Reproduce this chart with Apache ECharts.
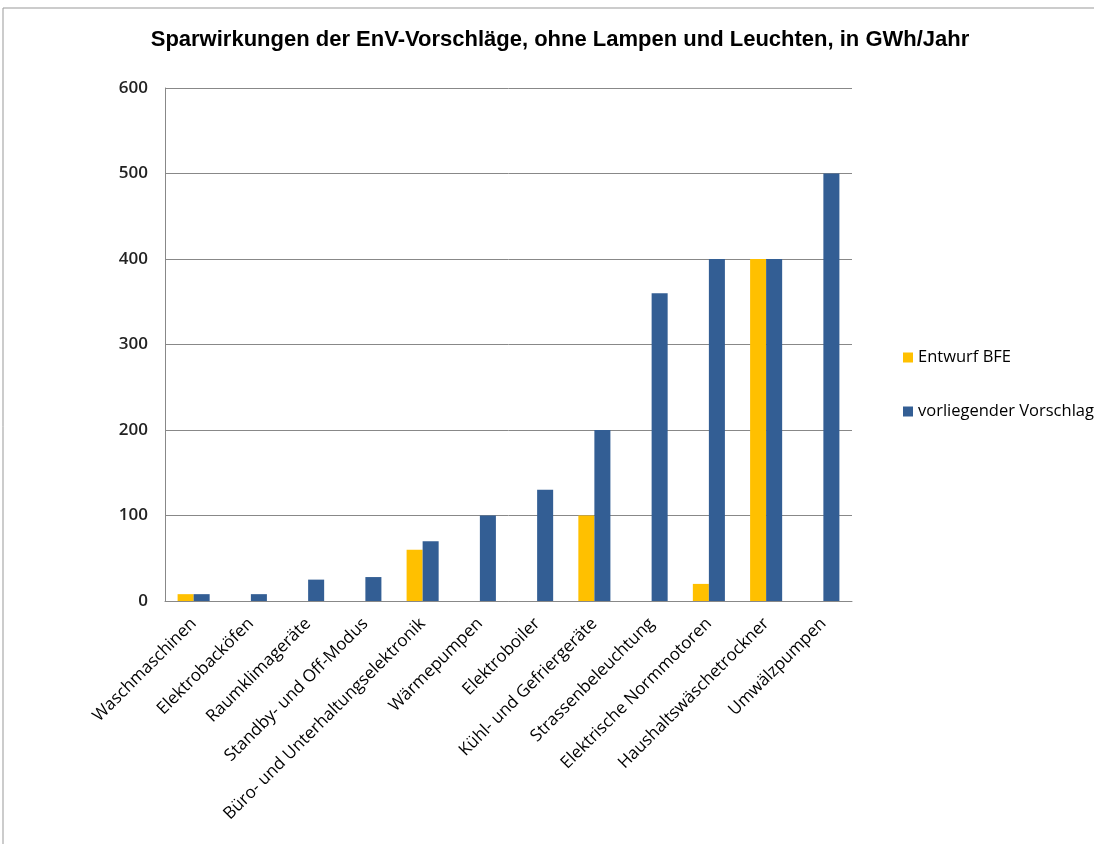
<!DOCTYPE html>
<html>
<head>
<meta charset="utf-8">
<script src="https://cdn.jsdelivr.net/npm/echarts@6/dist/echarts.min.js"></script>
<style>
  html, body { margin: 0; padding: 0; background: #fff; }
  #chart { width: 1094px; height: 844px; }
</style>
</head>
<body>
<div id="chart"></div>
<script>
const categories = [
  "Waschmaschinen", "Elektrobacköfen", "Raumklimageräte", "Standby- und Off-Modus",
  "Büro- und Unterhaltungselektronik", "Wärmepumpen", "Elektroboiler",
  "Kühl- und Gefriergeräte", "Strassenbeleuchtung", "Elektrische Normmotoren",
  "Haushaltswäschetrockner", "Umwälzpumpen"
];
const entwurfBFE = [8, null, null, null, 60, null, null, 100, null, 20, 400, null];
const vorschlag = [8, 8, 25, 28, 70, 100, 130, 200, 360, 400, 400, 500];
const yTicks = [0, 100, 200, 300, 400, 500, 600];

const chart = echarts.init(document.getElementById("chart"));
chart.setOption({
  backgroundColor: "#fff",
  animation: false,
  textStyle: { fontFamily: "Liberation Sans, Arial, sans-serif" },
  graphic: [{
    type: "rect",
    shape: { x: 3, y: 8, width: 1100, height: 850 },
    style: { fill: null, stroke: "#999", lineWidth: 1 }
  }],
  title: {
    text: "Sparwirkungen der EnV-Vorschläge, ohne Lampen und Leuchten, in GWh/Jahr",
    left: 555, top: 24, textAlign: "center",
    textStyle: { fontSize: 22, fontWeight: "bold", color: "#000", fontFamily: "Liberation Sans, Arial" }
  },
  legend: {
    orient: "vertical",
    left: 898, top: 344,
    itemWidth: 10, itemHeight: 10, itemGap: 37,
    icon: "rect",
    textStyle: { fontSize: 16.5, color: "#000", fontFamily: "Open Sans, sans-serif" },
    data: ["Entwurf BFE", "vorliegender Vorschlag"]
  },
  grid: { left: 165, right: 242, top: 88, bottom: 243, containLabel: false },
  xAxis: {
    type: "category",
    data: categories,
    axisLine: { lineStyle: { color: "#888" } },
    axisTick: { show: false },
    axisLabel: { rotate: 45, interval: 0, fontSize: 17, color: "#000", margin: 20, fontFamily: "Open Sans, sans-serif" }
  },
  yAxis: {
    type: "value",
    min: yTicks[0], max: yTicks[yTicks.length - 1], interval: 100,
    axisLine: { show: true, lineStyle: { color: "#888" } },
    axisTick: { show: false },
    axisLabel: { fontSize: 17, fontWeight: 600, color: "#222", margin: 17, fontFamily: "Open Sans, sans-serif" },
    splitLine: { lineStyle: { color: "#888" } }
  },
  series: [
    {
      name: "Entwurf BFE", type: "bar", data: entwurfBFE,
      barGap: "0%", barCategoryGap: "44%",
      itemStyle: { color: "#ffc000" }
    },
    {
      name: "vorliegender Vorschlag", type: "bar", data: vorschlag,
      barGap: "0%", barCategoryGap: "44%",
      itemStyle: { color: "#335e94" }
    }
  ]
});
</script>
</body>
</html>
